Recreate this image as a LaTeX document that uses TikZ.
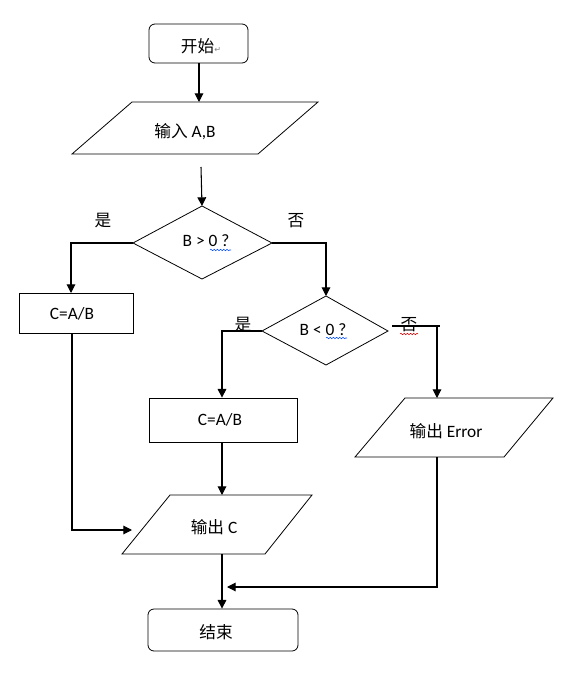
\documentclass[tikz,border=0pt]{standalone}
\usepackage{fontspec}
\setmainfont{Carlito}
\newfontfamily\cjk{Noto Sans CJK SC}
\newfontfamily\dejavu{DejaVu Sans}
\newcommand\zhtext[1]{{\cjk\fontsize{12.5}{14}\selectfont #1}}
\usetikzlibrary{arrows.meta,decorations.pathmorphing}
\begin{document}
\begin{tikzpicture}[x=0.75pt,y=-0.75pt,
  txt/.style={font=\fontsize{13}{15}\selectfont, inner sep=0pt},
  outline/.style={draw=black, line width=0.6pt},
  boxnode/.style={draw=black, line width=0.6pt, rectangle, inner sep=0pt},
  arr/.style={-{Triangle[length=6.5pt,width=6.5pt]}, line width=0.8pt},
  ln/.style={line width=0.8pt},
  wavy/.style={line width=0.4pt, decorate, decoration={snake, amplitude=0.55pt, segment length=2.4pt}}]
\useasboundingbox (0,0) rectangle (566,698);
\fill[white] (0,0) rectangle (566,698);

% start
\node[boxnode, rounded corners=4.5pt, minimum width=74.25pt, minimum height=29.25pt] (start) at (198.5,43.5) {};
\node[txt] (startT) at (201,46) {\zhtext{开始}{\dejavu\fontsize{6}{7}\selectfont\color{gray}↵}};

% input parallelogram
\draw[outline] (132,102) -- (318,102) -- (258,154) -- (72,154) -- cycle;
\node[txt] (inT) at (185,132) {\zhtext{输入} A,B};
\coordinate (inTop) at (199,102);
\coordinate (inOut) at (201,167);

% decision 1
\coordinate (d1N) at (202,206);
\coordinate (d1W) at (133,243);
\coordinate (d1E) at (272,243);
\coordinate (d1S) at (202,279);
\draw[outline] (d1N) -- (d1E) -- (d1S) -- (d1W) -- cycle;
\node[txt] (d1T) at (206,241) {B > 0 ?};
\draw[wavy, blue!70!cyan] (210,250) -- (231,250);
\node[txt] (yes1) at (103,221) {\zhtext{是}};
\node[txt] (no1) at (296,221) {\zhtext{否}};

% box1
\node[boxnode, minimum width=85.5pt, minimum height=30pt] (box1) at (76,313) {};
\node[txt] (box1T) at (72,314) {C=A/B};

% decision 2
\coordinate (d2N) at (326,296);
\coordinate (d2W) at (262,331);
\coordinate (d2E) at (388,331);
\coordinate (d2S) at (326,365);
\draw[outline] (d2N) -- (d2E) -- (d2S) -- (d2W) -- cycle;
\node[txt] (d2T) at (323,330) {B < 0 ?};
\draw[wavy, blue!70!cyan] (326,338) -- (347,338);
\node[txt] (yes2) at (243,325) {\zhtext{是}};
\node[txt] (no2) at (409,325) {\zhtext{否}};
\draw[wavy, red!85!black] (400,334) -- (418,334);

% box2
\node[boxnode, minimum width=111pt, minimum height=33pt] (box2) at (223,420) {};
\node[txt] (box2T) at (220,420) {C=A/B};

% output error
\draw[outline] (405,398) -- (553,398) -- (504,457) -- (355,457) -- cycle;
\node[txt] (errT) at (446,431) {\zhtext{输出} Error};
\coordinate (errTop) at (437,398);
\coordinate (errBot) at (437,457);

% output C
\draw[outline] (170,495) -- (312,495) -- (265,554) -- (122,554) -- cycle;
\node[txt] (outT) at (214,527) {\zhtext{输出} C};
\coordinate (outTop) at (222,495);
\coordinate (outBot) at (222,554);
\coordinate (outLeft) at (132,530);

% end
\node[boxnode, rounded corners=4.5pt, minimum width=112.5pt, minimum height=31.5pt] (end) at (223,630) {};
\node[txt] (endT) at (216,632) {\zhtext{结束}};

% connectors
\draw[arr] (start.south -| inTop) -- (inTop);
\draw[arr] (inOut) -- (d1N);
\draw[arr] (d1W) -- (71,243) -- (71,293);
\draw[arr] (d1E) -- (326,243) -- (d2N);
\draw[ln, arr] (box1.south -| 72,0) -- (72,530) -- (outLeft);
\draw[arr] (d2W) -- (222,331) -- (box2.north -| 222,0);
\coordinate (no2a) at (392,326);
\coordinate (no2b) at (440,326);
\draw[ln] (no2a) -- (no2b);
\draw[arr] (437,326) -- (errTop);
\draw[arr] (box2.south -| 222,0) -- (outTop);
\draw[arr] (outBot) -- (end.north -| 222,0);
\coordinate (joinPt) at (227,587);
\draw[arr] (errBot) -- (437,587) -- (joinPt);
\end{tikzpicture}
\end{document}
